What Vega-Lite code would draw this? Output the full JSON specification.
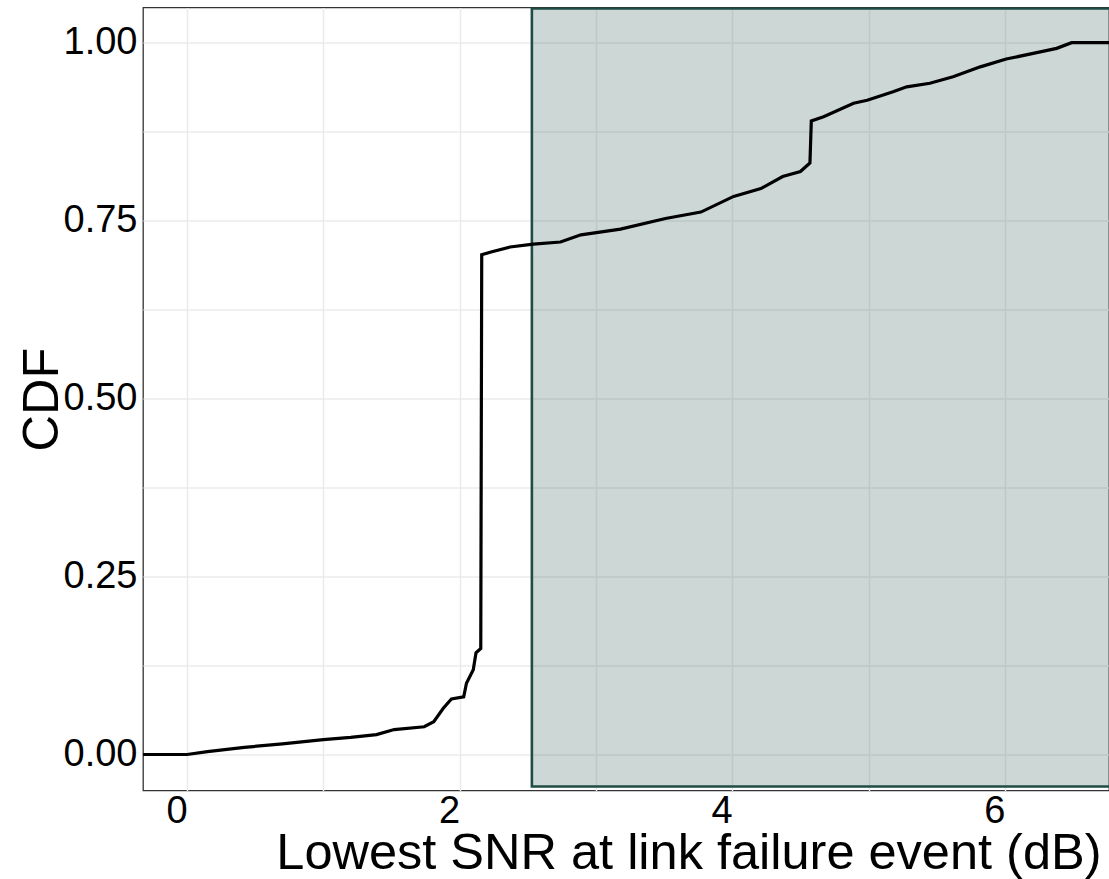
{
  "$schema": "https://vega.github.io/schema/vega-lite/v6.json",
  "autosize": "none",
  "width": 966,
  "height": 783,
  "padding": {"left": 143, "top": 7.5, "right": 0, "bottom": 88.5},
  "background": "white",
  "config": {
    "view": {"stroke": "#333333", "strokeWidth": 1.3},
    "axis": {
      "labelFont": "Liberation Sans",
      "titleFont": "Liberation Sans",
      "labelColor": "black",
      "titleColor": "black",
      "titleFontWeight": "normal",
      "domain": false,
      "ticks": false,
      "grid": true,
      "gridColor": "#ebebeb",
      "gridWidth": 1.5,
      "labelOverlap": false,
      "labelFlush": false,
      "labelBound": false
    }
  },
  "datasets": {
    "ecdf": [
      {"x": -0.5, "y": 0}, {"x": 0, "y": 0}, {"x": 0.15, "y": 0.004}, {"x": 0.42, "y": 0.010},
      {"x": 0.7, "y": 0.015}, {"x": 1.0, "y": 0.021}, {"x": 1.2, "y": 0.024}, {"x": 1.39, "y": 0.028},
      {"x": 1.52, "y": 0.035}, {"x": 1.74, "y": 0.039}, {"x": 1.81, "y": 0.046}, {"x": 1.88, "y": 0.065},
      {"x": 1.94, "y": 0.078}, {"x": 2.03, "y": 0.081}, {"x": 2.05, "y": 0.10}, {"x": 2.10, "y": 0.119},
      {"x": 2.12, "y": 0.143}, {"x": 2.155, "y": 0.149}, {"x": 2.162, "y": 0.702}, {"x": 2.23, "y": 0.706},
      {"x": 2.37, "y": 0.713}, {"x": 2.54, "y": 0.717}, {"x": 2.74, "y": 0.720}, {"x": 2.89, "y": 0.730},
      {"x": 3.18, "y": 0.738}, {"x": 3.51, "y": 0.753}, {"x": 3.77, "y": 0.762}, {"x": 4.01, "y": 0.784},
      {"x": 4.21, "y": 0.795}, {"x": 4.37, "y": 0.812}, {"x": 4.50, "y": 0.819}, {"x": 4.57, "y": 0.831},
      {"x": 4.58, "y": 0.89}, {"x": 4.67, "y": 0.896}, {"x": 4.89, "y": 0.915}, {"x": 4.99, "y": 0.919},
      {"x": 5.18, "y": 0.931}, {"x": 5.28, "y": 0.938}, {"x": 5.45, "y": 0.943}, {"x": 5.62, "y": 0.952},
      {"x": 5.82, "y": 0.966}, {"x": 6.01, "y": 0.977}, {"x": 6.26, "y": 0.987}, {"x": 6.38, "y": 0.992},
      {"x": 6.49, "y": 1.0}, {"x": 7.0, "y": 1.0}
    ],
    "band": [{"x": 2.53, "x2": 7.2, "y": -0.045, "y2": 1.048}]
  },
  "encoding": {
    "x": {
      "field": "x",
      "type": "quantitative",
      "scale": {"domain": [-0.323, 6.764], "nice": false, "zero": false},
      "axis": {
        "values": [0, 1, 2, 3, 4, 5, 6],
        "labelExpr": "datum.value % 2 === 0 ? datum.label : ''",
        "format": "d",
        "labelFontSize": 38,
        "labelAlign": "right",
        "labelPadding": 2,
        "title": "Lowest SNR at link failure event (dB)",
        "titleFontSize": 50.5,
        "titleAnchor": "end",
        "titleAlign": "right",
        "titleBaseline": "alphabetic",
        "titleX": 958,
        "titleY": 78
      }
    },
    "y": {
      "field": "y",
      "type": "quantitative",
      "scale": {"domain": [-0.0506, 1.0494], "nice": false, "zero": false},
      "axis": {
        "values": [0, 0.125, 0.25, 0.375, 0.5, 0.625, 0.75, 0.875, 1],
        "labelExpr": "(datum.value * 4) % 1 === 0 ? format(datum.value, '.2f') : ''",
        "labelFontSize": 38,
        "labelPadding": 6,
        "title": "CDF",
        "titleFontSize": 50.5,
        "titleAngle": -90,
        "titleAlign": "center",
        "titleBaseline": "alphabetic",
        "titleX": -86,
        "titleY": 391.5
      }
    }
  },
  "layer": [
    {
      "data": {"name": "band"},
      "mark": {"type": "rect", "fill": "#2f5a52", "fillOpacity": 0.24, "stroke": "#1f4d46", "strokeWidth": 2.6, "clip": true},
      "encoding": {"x2": {"field": "x2"}, "y2": {"field": "y2"}}
    },
    {
      "data": {"name": "ecdf"},
      "mark": {"type": "line", "color": "black", "strokeWidth": 3.2, "clip": true},
      "encoding": {}
    }
  ]
}
